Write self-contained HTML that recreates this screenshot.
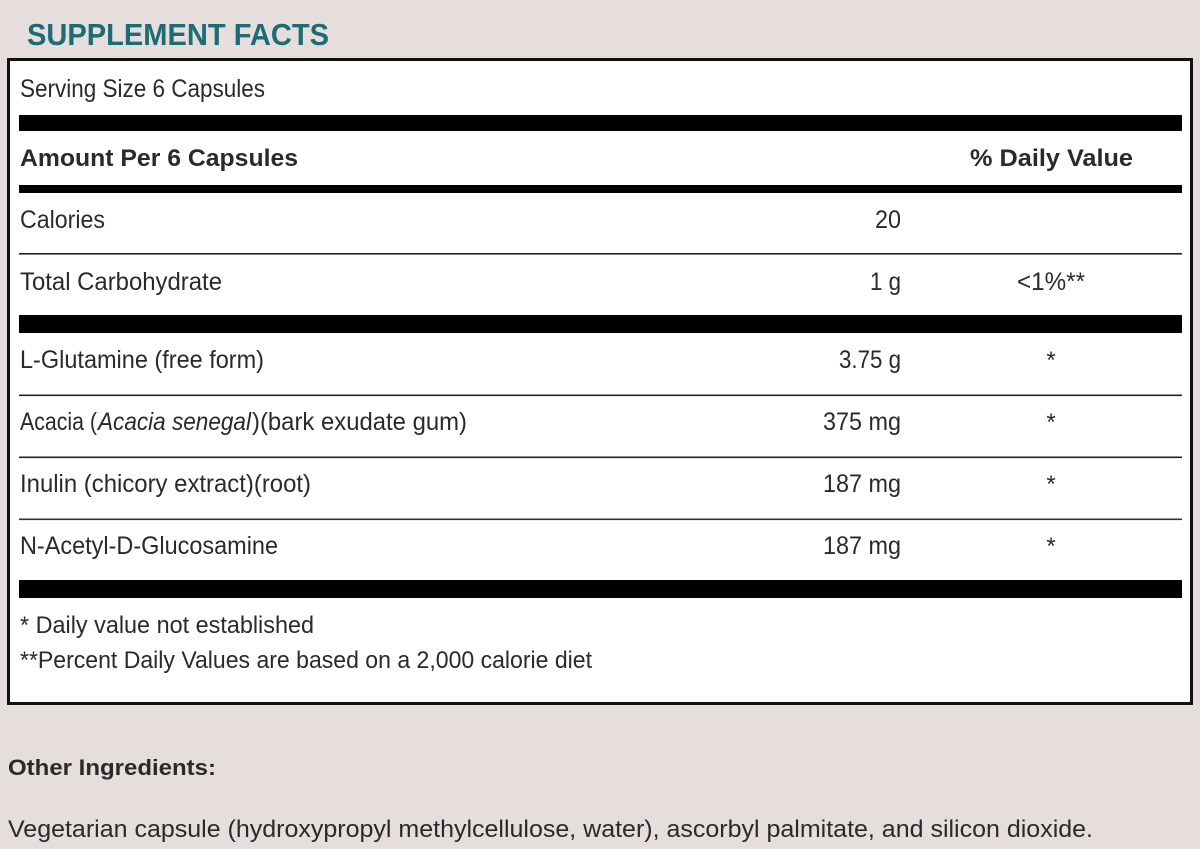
<!DOCTYPE html>
<html>
<head>
<meta charset="utf-8">
<style>
  html,body{margin:0;padding:0;background:#e5dedd;}
  svg{display:block;}
  text{font-family:"Liberation Sans",sans-serif;fill:#2a2a2a;}
</style>
</head>
<body>
<svg width="1200" height="849" viewBox="0 0 1200 849" xmlns="http://www.w3.org/2000/svg">
  <rect x="0" y="0" width="1200" height="849" fill="#e5dedd"/>
  <!-- title -->
  <text x="27" y="45" font-size="31" font-weight="bold" style="fill:#1d6b73" textLength="302" lengthAdjust="spacingAndGlyphs">SUPPLEMENT FACTS</text>

  <!-- box -->
  <rect x="8.5" y="59.5" width="1183" height="644" fill="#ffffff" stroke="#111" stroke-width="3"/>

  <!-- serving -->
  <text x="20" y="97" font-size="25" textLength="245" lengthAdjust="spacingAndGlyphs">Serving Size 6 Capsules</text>
  <rect x="19" y="115" width="1163" height="16" fill="#000"/>

  <!-- header -->
  <text x="20" y="166" font-size="24" font-weight="bold" textLength="278" lengthAdjust="spacingAndGlyphs">Amount Per 6 Capsules</text>
  <text x="970" y="166" font-size="24" font-weight="bold" textLength="163" lengthAdjust="spacingAndGlyphs">% Daily Value</text>
  <rect x="19" y="185" width="1163" height="8" fill="#000"/>

  <!-- calories -->
  <text x="20" y="228" font-size="25" textLength="85" lengthAdjust="spacingAndGlyphs">Calories</text>
  <text x="901" y="228" font-size="25" text-anchor="end" textLength="26" lengthAdjust="spacingAndGlyphs">20</text>
  <rect x="19" y="253" width="1163" height="1.6" fill="#222"/>

  <!-- total carb -->
  <text x="20" y="290" font-size="25" textLength="202" lengthAdjust="spacingAndGlyphs">Total Carbohydrate</text>
  <text x="901" y="290" font-size="25" text-anchor="end" textLength="31" lengthAdjust="spacingAndGlyphs">1 g</text>
  <text x="1017" y="290" font-size="25" textLength="68" lengthAdjust="spacingAndGlyphs">&lt;1%**</text>
  <rect x="19" y="315" width="1163" height="18" fill="#000"/>

  <!-- L-Glutamine -->
  <text x="20" y="368" font-size="25" textLength="244" lengthAdjust="spacingAndGlyphs">L-Glutamine (free form)</text>
  <text x="901" y="368" font-size="25" text-anchor="end" textLength="62" lengthAdjust="spacingAndGlyphs">3.75 g</text>
  <text x="1051" y="368" font-size="24" text-anchor="middle">*</text>
  <rect x="19" y="394.5" width="1163" height="1.6" fill="#222"/>

  <!-- Acacia -->
  <text x="20" y="430" font-size="25" textLength="77" lengthAdjust="spacingAndGlyphs">Acacia (</text>
  <text x="98" y="430" font-size="25" font-style="italic" textLength="153" lengthAdjust="spacingAndGlyphs">Acacia senegal</text>
  <text x="252" y="430" font-size="25" textLength="215" lengthAdjust="spacingAndGlyphs">)(bark exudate gum)</text>
  <text x="901" y="430" font-size="25" text-anchor="end" textLength="78" lengthAdjust="spacingAndGlyphs">375 mg</text>
  <text x="1051" y="430" font-size="24" text-anchor="middle">*</text>
  <rect x="19" y="456.5" width="1163" height="1.6" fill="#222"/>

  <!-- Inulin -->
  <text x="20" y="492" font-size="25" textLength="291" lengthAdjust="spacingAndGlyphs">Inulin (chicory extract)(root)</text>
  <text x="901" y="492" font-size="25" text-anchor="end" textLength="78" lengthAdjust="spacingAndGlyphs">187 mg</text>
  <text x="1051" y="492" font-size="24" text-anchor="middle">*</text>
  <rect x="19" y="518.5" width="1163" height="1.6" fill="#333"/>

  <!-- NAG -->
  <text x="20" y="554" font-size="25" textLength="258" lengthAdjust="spacingAndGlyphs">N-Acetyl-D-Glucosamine</text>
  <text x="901" y="554" font-size="25" text-anchor="end" textLength="78" lengthAdjust="spacingAndGlyphs">187 mg</text>
  <text x="1051" y="554" font-size="24" text-anchor="middle">*</text>
  <rect x="19" y="580" width="1163" height="18" fill="#000"/>

  <!-- footnotes -->
  <text x="20" y="633" font-size="24" textLength="294" lengthAdjust="spacingAndGlyphs">* Daily value not established</text>
  <text x="20" y="668" font-size="24" textLength="572" lengthAdjust="spacingAndGlyphs">**Percent Daily Values are based on a 2,000 calorie diet</text>

  <!-- other ingredients -->
  <text x="8" y="775" font-size="22" font-weight="bold" textLength="208" lengthAdjust="spacingAndGlyphs">Other Ingredients:</text>
  <text x="8" y="837" font-size="24" textLength="1085" lengthAdjust="spacingAndGlyphs">Vegetarian capsule (hydroxypropyl methylcellulose, water), ascorbyl palmitate, and silicon dioxide.</text>
</svg>
</body>
</html>
